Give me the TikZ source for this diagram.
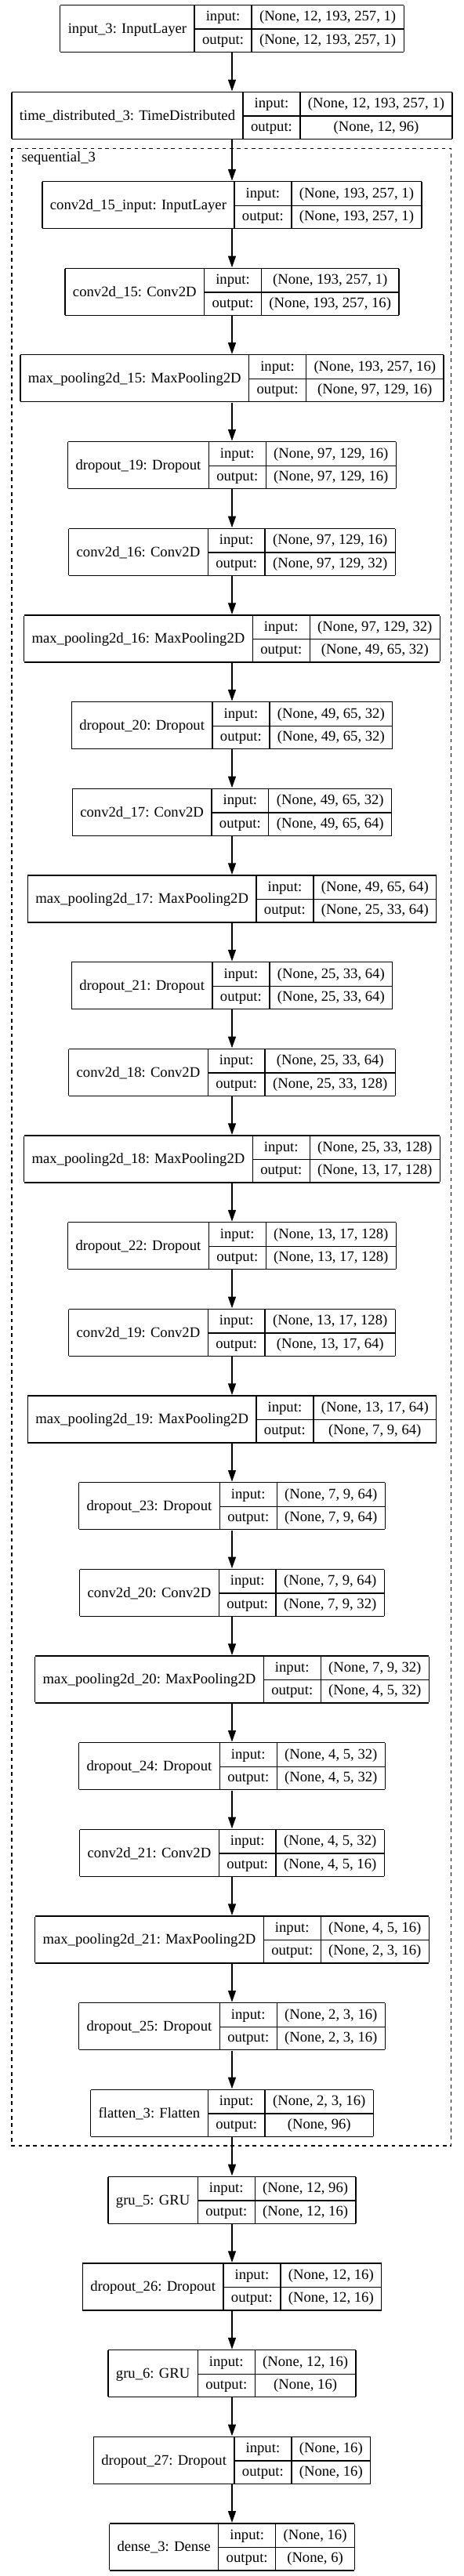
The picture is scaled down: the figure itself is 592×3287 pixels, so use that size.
\documentclass[tikz,border=0pt]{standalone}
\usepackage{fontspec}
\setmainfont{Liberation Serif}
\usepackage{tikz}
\usetikzlibrary{arrows.meta}

\setlength{\tabcolsep}{7.5pt}
\setlength{\arrayrulewidth}{1pt}
\newcommand{\rowstrut}{\rule[-7pt]{0pt}{22pt}}
\newcommand{\layer}[3]{%
  \begin{tabular}{|c|c|c|}\hline
    \raisebox{-11.5pt}[0pt][0pt]{#1} & \rowstrut input: & #2 \\ \cline{2-3}
    & \rowstrut output: & #3 \\ \hline
  \end{tabular}}

\begin{document}
\begin{tikzpicture}[x=0.75pt,y=-0.75pt,
    layerbox/.style={inner sep=0pt, font=\fontsize{14pt}{16pt}\selectfont},
    edge/.style={line width=1pt, -{Triangle[length=11pt,width=7.5pt]}}]
  \useasboundingbox (0,0) rectangle (592,3287);
  % outer model
  \node[layerbox] (in3) at (296,36.2) {\layer{input\_3: InputLayer}{(None, 12, 193, 257, 1)}{(None, 12, 193, 257, 1)}};
  \node[layerbox] (td3) at (296,147.2) {\layer{time\_distributed\_3: TimeDistributed}{(None, 12, 193, 257, 1)}{(None, 12, 96)}};
  % sequential_3
  \draw[line width=1pt, dash pattern=on 3.5pt off 3.5pt] (15,189.3) rectangle (575.7,2738);
  \node[layerbox, anchor=base west] (seq3) at (27.3,206.7) {sequential\_3};
  \node[layerbox] (c15in) at (296,261.5) {\layer{conv2d\_15\_input: InputLayer}{(None, 193, 257, 1)}{(None, 193, 257, 1)}};
  \node[layerbox] (c15) at (296,372.2) {\layer{conv2d\_15: Conv2D}{(None, 193, 257, 1)}{(None, 193, 257, 16)}};
  \node[layerbox] (mp15) at (296,482.8) {\layer{max\_pooling2d\_15: MaxPooling2D}{(None, 193, 257, 16)}{(None, 97, 129, 16)}};
  \node[layerbox] (do19) at (296,593.5) {\layer{dropout\_19: Dropout}{(None, 97, 129, 16)}{(None, 97, 129, 16)}};
  \node[layerbox] (c16) at (296,704.2) {\layer{conv2d\_16: Conv2D}{(None, 97, 129, 16)}{(None, 97, 129, 32)}};
  \node[layerbox] (mp16) at (296,814.9) {\layer{max\_pooling2d\_16: MaxPooling2D}{(None, 97, 129, 32)}{(None, 49, 65, 32)}};
  \node[layerbox] (do20) at (296,925.5) {\layer{dropout\_20: Dropout}{(None, 49, 65, 32)}{(None, 49, 65, 32)}};
  \node[layerbox] (c17) at (296,1036.2) {\layer{conv2d\_17: Conv2D}{(None, 49, 65, 32)}{(None, 49, 65, 64)}};
  \node[layerbox] (mp17) at (296,1146.9) {\layer{max\_pooling2d\_17: MaxPooling2D}{(None, 49, 65, 64)}{(None, 25, 33, 64)}};
  \node[layerbox] (do21) at (296,1257.5) {\layer{dropout\_21: Dropout}{(None, 25, 33, 64)}{(None, 25, 33, 64)}};
  \node[layerbox] (c18) at (296,1368.2) {\layer{conv2d\_18: Conv2D}{(None, 25, 33, 64)}{(None, 25, 33, 128)}};
  \node[layerbox] (mp18) at (296,1478.9) {\layer{max\_pooling2d\_18: MaxPooling2D}{(None, 25, 33, 128)}{(None, 13, 17, 128)}};
  \node[layerbox] (do22) at (296,1589.5) {\layer{dropout\_22: Dropout}{(None, 13, 17, 128)}{(None, 13, 17, 128)}};
  \node[layerbox] (c19) at (296,1700.2) {\layer{conv2d\_19: Conv2D}{(None, 13, 17, 128)}{(None, 13, 17, 64)}};
  \node[layerbox] (mp19) at (296,1810.9) {\layer{max\_pooling2d\_19: MaxPooling2D}{(None, 13, 17, 64)}{(None, 7, 9, 64)}};
  \node[layerbox] (do23) at (296,1921.6) {\layer{dropout\_23: Dropout}{(None, 7, 9, 64)}{(None, 7, 9, 64)}};
  \node[layerbox] (c20) at (296,2032.2) {\layer{conv2d\_20: Conv2D}{(None, 7, 9, 64)}{(None, 7, 9, 32)}};
  \node[layerbox] (mp20) at (296,2142.9) {\layer{max\_pooling2d\_20: MaxPooling2D}{(None, 7, 9, 32)}{(None, 4, 5, 32)}};
  \node[layerbox] (do24) at (296,2253.6) {\layer{dropout\_24: Dropout}{(None, 4, 5, 32)}{(None, 4, 5, 32)}};
  \node[layerbox] (c21) at (296,2364.2) {\layer{conv2d\_21: Conv2D}{(None, 4, 5, 32)}{(None, 4, 5, 16)}};
  \node[layerbox] (mp21) at (296,2474.9) {\layer{max\_pooling2d\_21: MaxPooling2D}{(None, 4, 5, 16)}{(None, 2, 3, 16)}};
  \node[layerbox] (do25) at (296,2585.6) {\layer{dropout\_25: Dropout}{(None, 2, 3, 16)}{(None, 2, 3, 16)}};
  \node[layerbox] (fl3) at (296,2696.2) {\layer{flatten\_3: Flatten}{(None, 2, 3, 16)}{(None, 96)}};
  % head
  \node[layerbox] (gru5) at (296,2807.2) {\layer{gru\_5: GRU}{(None, 12, 96)}{(None, 12, 16)}};
  \node[layerbox] (do26) at (296,2917.9) {\layer{dropout\_26: Dropout}{(None, 12, 16)}{(None, 12, 16)}};
  \node[layerbox] (gru6) at (296,3028.5) {\layer{gru\_6: GRU}{(None, 12, 16)}{(None, 16)}};
  \node[layerbox] (do27) at (296,3139.2) {\layer{dropout\_27: Dropout}{(None, 16)}{(None, 16)}};
  \node[layerbox] (de3) at (296,3249.8) {\layer{dense\_3: Dense}{(None, 16)}{(None, 6)}};
  % edges
  \draw[edge] (in3) -- (td3);
  \draw[edge] (td3) -- (c15in);
  \draw[edge] (c15in) -- (c15);
  \draw[edge] (c15) -- (mp15);
  \draw[edge] (mp15) -- (do19);
  \draw[edge] (do19) -- (c16);
  \draw[edge] (c16) -- (mp16);
  \draw[edge] (mp16) -- (do20);
  \draw[edge] (do20) -- (c17);
  \draw[edge] (c17) -- (mp17);
  \draw[edge] (mp17) -- (do21);
  \draw[edge] (do21) -- (c18);
  \draw[edge] (c18) -- (mp18);
  \draw[edge] (mp18) -- (do22);
  \draw[edge] (do22) -- (c19);
  \draw[edge] (c19) -- (mp19);
  \draw[edge] (mp19) -- (do23);
  \draw[edge] (do23) -- (c20);
  \draw[edge] (c20) -- (mp20);
  \draw[edge] (mp20) -- (do24);
  \draw[edge] (do24) -- (c21);
  \draw[edge] (c21) -- (mp21);
  \draw[edge] (mp21) -- (do25);
  \draw[edge] (do25) -- (fl3);
  \draw[edge] (fl3) -- (gru5);
  \draw[edge] (gru5) -- (do26);
  \draw[edge] (do26) -- (gru6);
  \draw[edge] (gru6) -- (do27);
  \draw[edge] (do27) -- (de3);
\end{tikzpicture}
\end{document}
